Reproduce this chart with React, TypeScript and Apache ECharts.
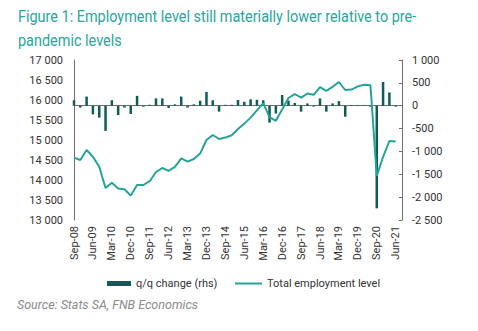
import React, { useEffect, useRef } from "react";
import * as echarts from "echarts";

const categories: string[] = [
  "Sep-08", "Dec-08", "Mar-09", "Jun-09", "Sep-09", "Dec-09", "Mar-10", "Jun-10", "Sep-10", "Dec-10",
  "Mar-11", "Jun-11", "Sep-11", "Dec-11", "Mar-12", "Jun-12", "Sep-12", "Dec-12", "Mar-13", "Jun-13",
  "Sep-13", "Dec-13", "Mar-14", "Jun-14", "Sep-14", "Dec-14", "Mar-15", "Jun-15", "Sep-15", "Dec-15",
  "Mar-16", "Jun-16", "Sep-16", "Dec-16", "Mar-17", "Jun-17", "Sep-17", "Dec-17", "Mar-18", "Jun-18",
  "Sep-18", "Dec-18", "Mar-19", "Jun-19", "Sep-19", "Dec-19", "Mar-20", "Jun-20", "Sep-20", "Dec-20",
  "Mar-21", "Jun-21", "Sep-21",
];

const qqChange: (number | null)[] = [
  120, -40, 200, -190, -260, -550, 120, -205, -40, -180,
  215, -20, 20, 160, 160, -50, 30, 200, -40, 30,
  110, 300, 120, -130, 20, 20, 125, 85, 140, 130,
  120, -370, -170, 235, 110, 60, -130, 50, -20, 160,
  -130, 50, 100, -240, 15, 15, 15, -20, -2245, 520,
  290, -20, null,
];

const totalEmployment: (number | null)[] = [
  14560, 14500, 14750, 14580, 14330, 13800, 13930, 13790, 13770, 13610,
  13875, 13875, 13970, 14200, 14300, 14230, 14330, 14540, 14460, 14525,
  14660, 15000, 15125, 15025, 15060, 15120, 15275, 15410, 15560, 15740,
  15920, 15570, 15480, 15760, 16050, 16150, 16060, 16160, 16130, 16320,
  16230, 16330, 16450, 16250, 16260, 16340, 16380, 16370, 14100, 14580,
  14975, 14960, null,
];

const titleLines = [
  "Figure 1: Employment level still materially lower relative to pre-",
  "pandemic levels",
];
const sourceText = "Source: Stats SA, FNB Economics";

const fmt = (v: number) => {
  const s = Math.abs(v).toString();
  const t = s.length > 3 ? s.slice(0, s.length - 3) + " " + s.slice(s.length - 3) : s;
  return (v < 0 ? "-" : "") + t;
};

const FONT = "Roboto";
const LINE_COLOR = "#25a398";
const BAR_COLOR = "#0e5c55";
const AXIS_COLOR = "#6e6e6e";
const LABEL_COLOR = "#333333";

export default function App() {
  const ref = useRef<HTMLDivElement>(null);
  useEffect(() => {
    if (!ref.current) return;
    const chart = echarts.init(ref.current, undefined, { renderer: "svg" });
    chart.setOption({
      animation: false,
      backgroundColor: "#ffffff",
      graphic: [
        {
          type: "text",
          x: 18,
          y: 4,
          scaleX: 0.85,
          style: {
            text: titleLines.join("\n"),
            fill: "#2aa69c",
            font: `17px ${FONT}`,
            lineHeight: 24,
          },
        },
        {
          type: "text",
          x: 17,
          y: 298,
          style: {
            text: sourceText,
            fill: "#8a8a8a",
            font: `italic 12.5px ${FONT}`,
          },
        },
      ],
      legend: [
        {
          data: [{ name: "q/q change (rhs)", icon: "rect" }],
          left: 107,
          top: 278,
          padding: 0,
          itemWidth: 24,
          itemHeight: 5,
          textStyle: { fontFamily: FONT, fontSize: 11, color: LABEL_COLOR },
        },
        {
          data: [{ name: "Total employment level", icon: "rect" }],
          left: 235,
          top: 278,
          padding: 0,
          itemWidth: 27,
          itemHeight: 2,
          textStyle: { fontFamily: FONT, fontSize: 11, color: LABEL_COLOR },
        },
      ],
      grid: { left: 74, right: 76, top: 60, bottom: 111, containLabel: false },
      xAxis: {
        type: "category",
        data: categories,
        boundaryGap: false,
        axisLine: { lineStyle: { color: AXIS_COLOR, width: 1 } },
        axisTick: { show: false },
        axisLabel: {
          interval: 2,
          rotate: 90,
          margin: 6,
          fontFamily: FONT,
          fontSize: 11,
          color: LABEL_COLOR,
        },
        splitLine: { show: false },
      },
      yAxis: [
        {
          type: "value",
          min: 13000,
          max: 17000,
          interval: 500,
          position: "left",
          axisLine: { show: true, lineStyle: { color: AXIS_COLOR } },
          axisTick: { show: false },
          splitLine: { show: false },
          axisLabel: {
            margin: 11,
            fontFamily: FONT,
            fontSize: 11,
            color: LABEL_COLOR,
            formatter: (v: number) => fmt(v),
          },
        },
        {
          type: "value",
          min: -2500,
          max: 1000,
          interval: 500,
          position: "right",
          axisLine: { show: true, lineStyle: { color: AXIS_COLOR } },
          axisTick: { show: true, inside: true, length: 3, lineStyle: { color: AXIS_COLOR } },
          splitLine: { show: false },
          axisLabel: {
            margin: 10,
            fontFamily: FONT,
            fontSize: 11,
            color: LABEL_COLOR,
            formatter: (v: number) => fmt(v),
          },
        },
      ],
      series: [
        {
          name: "q/q change (rhs)",
          type: "bar",
          yAxisIndex: 1,
          data: qqChange,
          barWidth: 2.5,
          itemStyle: { color: BAR_COLOR },
        },
        {
          name: "Total employment level",
          type: "line",
          yAxisIndex: 0,
          data: totalEmployment,
          symbol: "none",
          lineStyle: { color: LINE_COLOR, width: 2 },
          itemStyle: { color: LINE_COLOR },
        },
      ],
    });
    return () => chart.dispose();
  }, []);
  return <div ref={ref} style={{ width: 478, height: 331, position: "absolute", left: 0, top: 0 }} />;
}
